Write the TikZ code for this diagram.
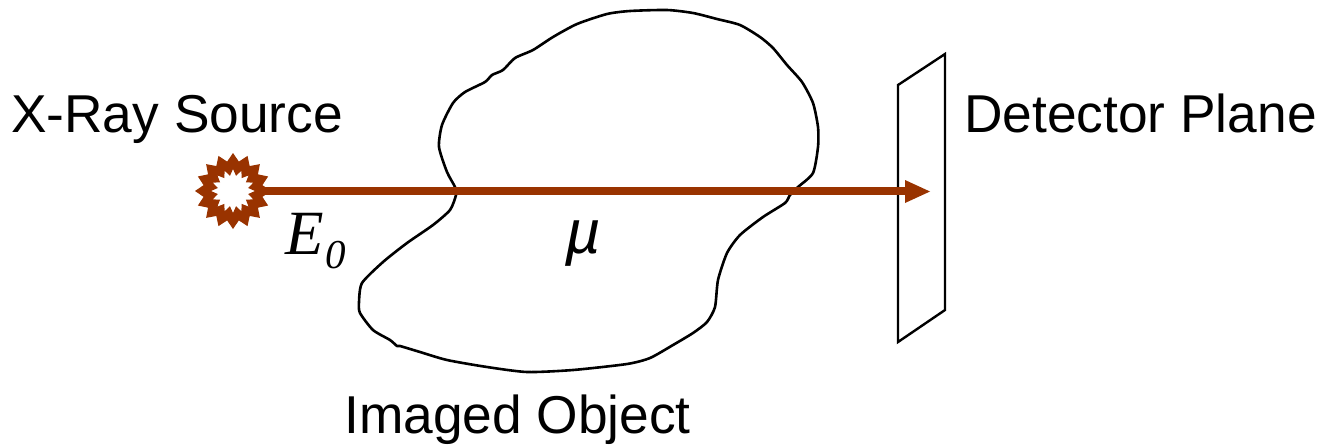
\documentclass[tikz,border=0pt]{standalone}
\usepackage{fontspec}
\setmainfont{Liberation Sans}
\newfontfamily\serifit{Liberation Serif}
\definecolor{ray}{HTML}{993300}
\tikzset{
  x=1pt,y=-1pt,
  lbl/.style={font=\fontsize{53.3}{60}\selectfont,inner sep=0pt,text=black},
  blob/.style={draw=black,line width=2.6pt,line join=round},
  beam/.style={draw=ray,line width=8.5pt},
  plate/.style={draw=black,line width=2.4pt,line join=miter}
}
\begin{document}
\begin{tikzpicture}
\useasboundingbox (0,0) rectangle (1321,445);
% source star
\fill[ray,even odd rule]
 plot[samples at={0,...,31},variable=\i] ({233+(mod(\i,2)==0 ? 38 : 30)*cos(\i*11.25)},{191+(mod(\i,2)==0 ? 38 : 30)*sin(\i*11.25)}) -- cycle
 plot[samples at={0,...,31},variable=\i] ({233+(mod(\i,2)==0 ? 22 : 15.5)*cos(\i*11.25)},{191+(mod(\i,2)==0 ? 22 : 15.5)*sin(\i*11.25)}) -- cycle;
% object
\draw[blob] plot[smooth cycle,tension=0.4] coordinates {
(455,187)(447,172)(439,147)(442,125)(453,103)(465,92)(485,82)(492,75)(503,70)(515,58)(533,50)(553,37)(577,24)(607,14)(630,11)(667,10)(693,13)(717,19)(740,25)(760,37)(773,48)(787,65)(802,82)(813,103)(818,127)(818,147)(813,173)(798,187)(790,195)(785,203)(763,217)(740,235)(727,253)(718,280)(715,307)(707,322)(693,333)(673,345)(650,358)(627,364)(573,370)(527,372)(487,367)(447,360)(420,352)(400,346)(397,346)(390,340)(373,330)(360,313)(359,302)(362,283)(383,262)(407,243)(433,225)(450,210)(456,195)};
% detector
\coordinate (pa) at (898,85);
\coordinate (pb) at (945,54);
\coordinate (pc) at (945,310);
\coordinate (pd) at (898,342);
\draw[plate] (pa) -- (pb) -- (pc) -- (pd) -- cycle;
% beam
\coordinate (bs) at (258,191);
\coordinate (be) at (906,191);
\coordinate (bt) at (930,191.5);
\coordinate (bu) at (905,180);
\coordinate (bl) at (905,203);
\draw[beam] (bs) -- (be);
\fill[ray] (bt) -- (bu) -- (bl) -- cycle;
% labels
\node[lbl,anchor=base west] (src) at (11,132) {X-Ray Source};
\node[lbl,anchor=base west] (det) at (964,132) {Detector Plane};
\node[lbl,anchor=base west] (obj) at (344,433) {Imaged Object};
\node[inner sep=0pt,anchor=base west,font=\fontsize{63}{70}\selectfont\serifit\itshape] (e0) at (285,254) {E};
\node[inner sep=0pt,anchor=base west,font=\fontsize{41}{46}\selectfont\serifit\itshape] (e00) at (325,268) {0};
\node[inner sep=0pt,anchor=base west,font=\fontsize{62}{68}\selectfont\itshape] (mu) at (565,253) {µ};
\end{tikzpicture}
\end{document}
